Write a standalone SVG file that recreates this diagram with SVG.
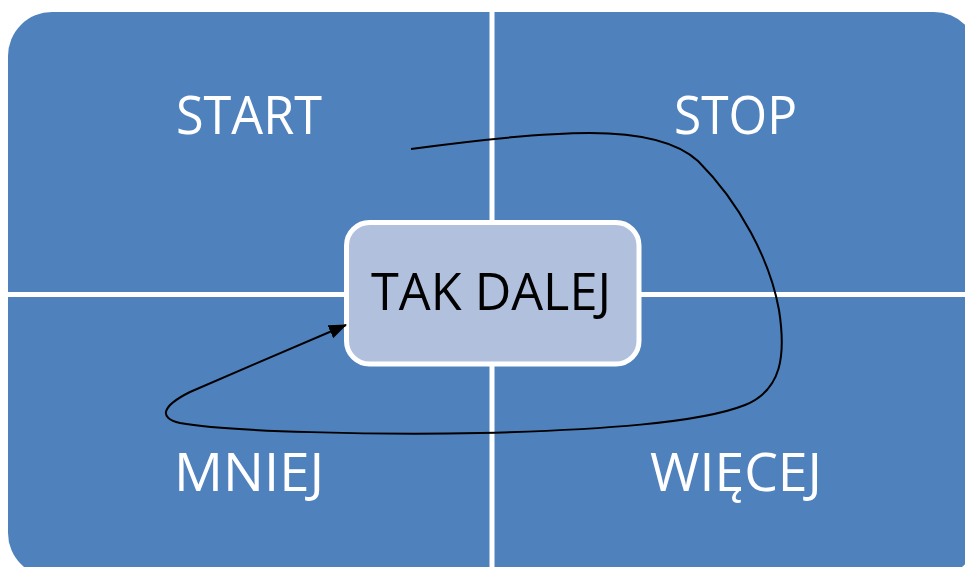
<svg xmlns="http://www.w3.org/2000/svg" width="965" height="567" viewBox="0 0 965 567">
<defs>
<style>
.q{fill:#4F81BD;}
.lbl{font-family:"Open Sans","Liberation Sans",sans-serif;font-size:53px;fill:#FFFFFF;text-anchor:middle;}
.ctr{font-family:"Open Sans","Liberation Sans",sans-serif;font-size:52px;fill:#000000;text-anchor:middle;}
.conn{fill:none;stroke:#000000;stroke-width:2;}
</style>
<marker id="arr" markerUnits="userSpaceOnUse" markerWidth="20" markerHeight="16" refX="17" refY="7" orient="auto">
<path d="M0,0 L18,7 L0,14 Z" fill="#000000"/>
</marker>
</defs>
<rect width="965" height="567" fill="#FFFFFF"/>
<g id="start">
<path class="q" d="M8,292 V56 A44,44 0 0 1 52,12 H489.5 V292 Z"/>
<text class="lbl" x="249" y="133.5" textLength="146" lengthAdjust="spacingAndGlyphs">START</text>
</g>
<g id="stop">
<path class="q" d="M494.5,12 H934 A44,44 0 0 1 978,56 V292 H494.5 Z"/>
<text class="lbl" x="735.5" y="133.5" textLength="123" lengthAdjust="spacingAndGlyphs">STOP</text>
</g>
<g id="mniej">
<path class="q" d="M8,297 H489.5 V577 H52 A44,44 0 0 1 8,533 Z"/>
<text class="lbl" x="249" y="491" textLength="150" lengthAdjust="spacingAndGlyphs">MNIEJ</text>
</g>
<g id="wiecej">
<path class="q" d="M494.5,297 H978 V533 A44,44 0 0 1 934,577 H494.5 Z"/>
<text class="lbl" x="736" y="491" textLength="172" lengthAdjust="spacingAndGlyphs">WIĘCEJ</text>
</g>
<g id="tak-dalej">
<rect x="346.5" y="222.5" width="292.5" height="141.5" rx="23" ry="23" fill="#B1C1DD" stroke="#FFFFFF" stroke-width="5"/>
<text class="ctr" x="491" y="310" textLength="240" lengthAdjust="spacingAndGlyphs">TAK DALEJ</text>
</g>
<g id="connectors">
<path class="conn" marker-end="url(#arr)" d="M411,149 C470,141 540,133 590,133 C640,133 677,142 698,161 C740,203 770,260 779,310 C786,355 782,390 745,405 C700,423 600,430 480,433 C380,435 230,432 180,423 C158,418 162,406 190,392 C240,370 300,345 346,325"/>
</g>
</svg>
